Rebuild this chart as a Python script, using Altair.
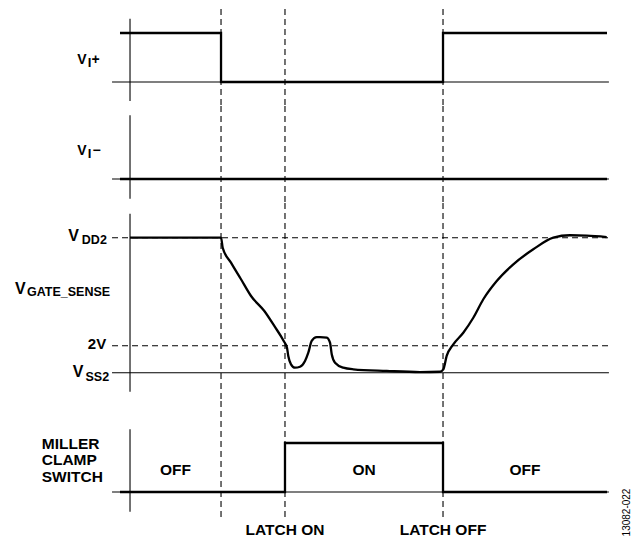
import altair as alt
import pandas as pd

# ---------------- data (time in arbitrary units, t=0 at the axis) ----------------
T_FALL = 19.08        # V_I+ falling edge
T_LATCH_ON = 32.49    # latch on
T_LATCH_OFF = 65.62   # latch off
T_END = 100.0
T_START = -2.1        # signals start a little left of the axis
T_TICK = -3.77        # baseline ticks start
T_BASE_END = 100.4
T_REF_END = 101.05

vi_plus_t = [T_START, T_FALL, T_FALL, T_LATCH_OFF, T_LATCH_OFF, T_END]
vi_plus_v = [1, 1, 0, 0, 1, 1]

vi_minus_t = [T_START, T_END]
vi_minus_v = [0, 0]

VDD2 = 10.0
V2 = 2.0
VSS2 = 0.0
gate_t = [0, 19.08, 19.43, 21.17, 23.27, 25.37, 28.16, 30.25, 32.22, 32.91, 33.18,
          33.75, 34.59, 35.64, 36.69, 37.38, 38.09, 39.14, 39.83, 41.24, 41.93, 42.29,
          42.98, 44.72, 46.81, 53.82, 60.80, 64.99, 65.68, 66.39, 67.78, 69.87, 71.97,
          74.07, 76.88, 80.36, 84.55, 88.74, 92.24, 95.74, 99.94]
gate_v = [10.0, 10.0, 9.26, 8.15, 6.92, 5.68, 4.57, 3.46, 2.35, 1.85, 1.24,
          0.62, 0.37, 0.44, 0.87, 1.48, 2.35, 2.64, 2.64, 2.59, 2.22, 1.36,
          0.74, 0.37, 0.25, 0.13, 0.05, 0.07, 0.25, 1.24, 2.10, 2.96, 4.07,
          5.44, 6.79, 8.03, 9.14, 10.0, 10.18, 10.15, 10.05]

clamp_t = [T_START, T_LATCH_ON, T_LATCH_ON, T_LATCH_OFF, T_LATCH_OFF, T_END]
clamp_v = [0, 0, 1, 1, 0, 0]
clamp_states = ["OFF", "ON", "OFF"]
clamp_state_spans = [(0, T_FALL), (T_LATCH_ON, T_LATCH_OFF), (T_LATCH_OFF, T_END)]

event_t = [T_FALL, T_LATCH_ON, T_LATCH_OFF]
event_labels = ["LATCH ON", "LATCH OFF"]
event_label_t = [T_LATCH_ON, T_LATCH_OFF]
figure_code = "13082-022"

# ---------------- layout helpers ----------------
W = 626
X_DOMAIN = [-25.58, 105.66]
xs = alt.Scale(domain=X_DOMAIN, nice=False, zero=False)
FONT = "Liberation Sans"
THICK = 2.3
THIN = 1.1
DASH = [6, 4]


def ysc(dom):
    return alt.Scale(domain=dom, nice=False, zero=False)


def segs(ydom, rows, width=THIN, dash=None):
    df = pd.DataFrame(rows, columns=["t", "t2", "v", "v2"])
    kw = dict(color="black", strokeWidth=width)
    if dash:
        kw["strokeDash"] = dash
    return alt.Chart(df).mark_rule(**kw).encode(
        x=alt.X("t:Q", scale=xs, axis=None),
        x2="t2:Q",
        y=alt.Y("v:Q", scale=ysc(ydom), axis=None),
        y2="v2:Q",
    )


def line(ydom, ts, vs, interp="linear"):
    df = pd.DataFrame({"t": ts, "v": vs, "i": range(len(ts))})
    return alt.Chart(df).mark_line(
        color="black", strokeWidth=THICK, interpolate=interp, strokeJoin="miter"
    ).encode(
        x=alt.X("t:Q", scale=xs, axis=None),
        y=alt.Y("v:Q", scale=ysc(ydom), axis=None),
        order="i:Q",
    )


def texts(ydom, rows, align="left", baseline="alphabetic", weight="bold", angle=0):
    df = pd.DataFrame(rows, columns=["t", "v", "text", "size"])
    return alt.Chart(df).mark_text(
        align=align, baseline=baseline, font=FONT, fontWeight=weight,
        angle=angle, color="black"
    ).encode(
        x=alt.X("t:Q", scale=xs, axis=None),
        y=alt.Y("v:Q", scale=ysc(ydom), axis=None),
        text="text:N",
        size=alt.Size("size:Q", scale=None, legend=None),
    )


def vdash(ydom, top, bottom):
    return segs(ydom, [(t, t, top, bottom) for t in event_t], width=THIN, dash=DASH)


# ---------------- panel 1: V_I+ ----------------
D1 = [-0.4898, 1.4898]
p1 = alt.layer(
    vdash(D1, D1[1], D1[0]),
    segs(D1, [(0, 0, 1.292, -0.388), (T_TICK, T_BASE_END, 0, 0)]),
    line(D1, vi_plus_t, vi_plus_v),
    texts(D1, [(-11.05, 0.373, "V", 14), (-8.87, 0.306, "I", 13), (-8.09, 0.373, "+", 14)]),
).properties(width=W, height=97)

# ---------------- panel 2: V_I- ----------------
D2 = [-0.4898, 1.4898]
p2 = alt.layer(
    vdash(D2, D2[1], D2[0]),
    segs(D2, [(0, 0, 1.30, -0.402), (T_TICK, T_BASE_END, 0, 0)]),
    line(D2, vi_minus_t, vi_minus_v),
    texts(D2, [(-11.05, 0.49, "V", 14), (-8.87, 0.429, "I", 13), (-7.88, 0.49, "\u2212", 14)]),
).properties(width=W, height=97)

# ---------------- panel 3: V_GATE_SENSE ----------------
D3 = [-2.096, 12.57]
p3 = alt.layer(
    vdash(D3, D3[1], D3[0]),
    segs(D3, [(0, 0, 11.78, -1.407), (T_TICK, T_BASE_END, VSS2, VSS2)]),
    segs(D3, [(T_TICK, T_REF_END, VDD2, VDD2), (T_TICK, T_REF_END, V2, V2)], dash=DASH),
    line(D3, gate_t, gate_v, interp="monotone"),
    texts(D3, [(-12.96, 9.76, "V", 16), (-10.1, 9.56, "DD2", 12.5),
               (-24.1, 5.81, "V", 16), (-21.6, 5.68, "GATE_SENSE", 12.5),
               (-12.0, -0.32, "V", 16), (-9.33, -0.61, "SS2", 12.5)]),
    texts(D3, [(-4.99, 1.73, "2V", 15)], align="right"),
).properties(width=W, height=198)

# ---------------- panel 4: Miller clamp switch ----------------
D4 = [-0.918, 1.857]
state_rows = [((a + b) / 2, 0.347, s, 15.5) for s, (a, b) in zip(clamp_states, clamp_state_spans)]
event_rows = [(t, -0.88, s, 15.5) for s, t in zip(event_labels, event_label_t)]
p4 = alt.layer(
    vdash(D4, D4[1], -0.524),
    segs(D4, [(0, 0, 1.28, -0.402), (T_TICK, T_BASE_END, 0, 0)]),
    line(D4, clamp_t, clamp_v),
    texts(D4, [(-18.51, 0.871, "MILLER", 15.5), (-18.51, 0.551, "CLAMP", 15.5),
               (-18.51, 0.21, "SWITCH", 15.5)]),
    texts(D4, state_rows + event_rows, align="center"),
    texts(D4, [(104.1, -0.418, figure_code, 10)], align="center", baseline="middle",
          weight="normal", angle=270),
).properties(width=W, height=136)

chart = alt.vconcat(p1, p2, p3, p4, spacing=0, bounds="flush").properties(
    padding=0, background="white"
).configure_view(stroke=None)

chart.save("out.html", embed_options={"renderer": "svg", "actions": False})
